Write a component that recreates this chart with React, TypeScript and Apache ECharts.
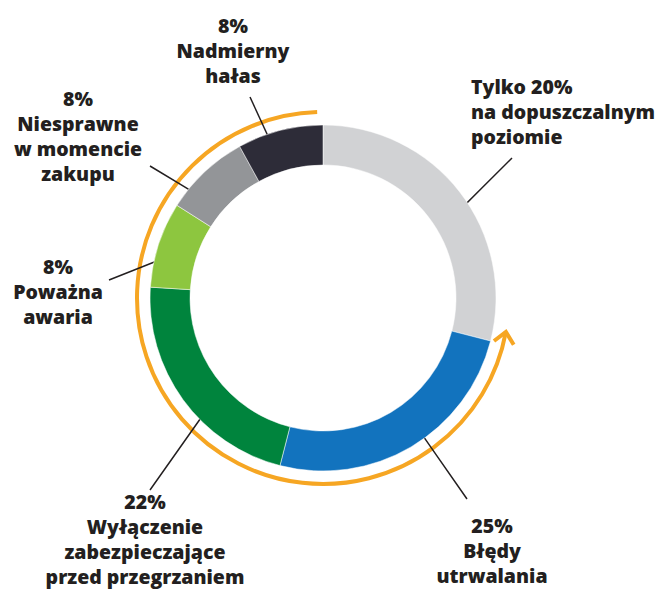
import React, { useEffect, useRef } from 'react';
import * as echarts from 'echarts';

// ---- data ----
const LABELS = [
  'Tylko 20%\nna dopuszczalnym\npoziomie',
  '25%\nBłędy\nutrwalania',
  '22%\nWyłączenie\nzabezpieczające\nprzed przegrzaniem',
  '8%\nPoważna\nawaria',
  '8%\nNiesprawne\nw momencie\nzakupu',
  '8%\nNadmierny\nhałas',
];
const VALUES = [29, 25, 22, 8, 8, 8];

// ---- styles / layout ----
const COLORS = ['#d1d2d4', '#1273be', '#00843d', '#8dc63f', '#939598', '#2d2c38'];
const CX = 323;
const CY = 298;
const R_IN = 133;
const R_OUT = 173;
const ARC_R = 186;
const ORANGE = '#f6a623';
const TEXT = '#231f20';
const FONT = 'Open Sans';

const LABEL_LAYOUT = [
  { x: 471, y: 74, align: 'left', end: [512, 158], dAngle: 6.5, r: 146 },
  { x: 492, y: 513, align: 'center', end: [467, 499], dAngle: -5.6, r: 139 },
  { x: 145, y: 489, align: 'center', end: [150, 490], dAngle: -7.4, r: 155 },
  { x: 58, y: 254, align: 'center', end: [109, 280], dAngle: -2.1, r: 157 },
  { x: 78, y: 86, align: 'center', end: [150, 166], dAngle: -6.5, r: 148 },
  { x: 233, y: 13, align: 'center', end: [250, 97], dAngle: -3.4, r: 147 },
];

function lineStart(i: number): number[] {
  const total = VALUES.reduce((a, b) => a + b, 0);
  let cum = 0;
  for (let k = 0; k < i; k++) cum += VALUES[k];
  const mid = ((cum + VALUES[i] / 2) / total) * 360 + LABEL_LAYOUT[i].dAngle;
  const a = (mid * Math.PI) / 180;
  const r = LABEL_LAYOUT[i].r;
  return [CX + r * Math.sin(a), CY - r * Math.cos(a)];
}

export default function App() {
  const ref = useRef<HTMLDivElement>(null);
  useEffect(() => {
    document.body.style.margin = '0';
    if (!ref.current) return;
    const chart = echarts.init(ref.current, undefined, { renderer: 'svg' });

    const deg = (d: number) => (d * Math.PI) / 180;
    const tipA = deg(10.5);
    const tip = [CX + ARC_R * Math.cos(tipA), CY + ARC_R * Math.sin(tipA)];
    const dir = [Math.sin(tipA), -Math.cos(tipA)];
    const back = [-dir[0], -dir[1]];
    const rot = (v: number[], t: number) => [
      v[0] * Math.cos(t) - v[1] * Math.sin(t),
      v[0] * Math.sin(t) + v[1] * Math.cos(t),
    ];
    const armLen = 15;
    const a1 = rot(back, deg(42));
    const a2 = rot(back, deg(-42));

    chart.setOption({
      animation: false,
      series: [
        {
          type: 'pie',
          center: [CX, CY],
          radius: [R_IN, R_OUT],
          startAngle: 90,
          clockwise: true,
          silent: true,
          avoidLabelOverlap: false,
          itemStyle: { borderColor: '#ffffff', borderWidth: 0.5 },
          data: VALUES.map((v, i) => ({
            value: v,
            name: LABELS[i],
            itemStyle: { color: COLORS[i] },
          })),
          label: {
            show: true,
            position: 'outside',
            formatter: (p: any) => LABELS[p.dataIndex],
            color: TEXT,
            fontFamily: FONT,
            fontWeight: 800,
            fontSize: 19.5,
            lineHeight: 25,
          },
          labelLine: {
            show: true,
            lineStyle: { color: TEXT, width: 1.5 },
          },
          labelLayout: (params: any) => {
            const L = LABEL_LAYOUT[params.dataIndex];
            const s = lineStart(params.dataIndex);
            const m = [(s[0] + L.end[0]) / 2, (s[1] + L.end[1]) / 2];
            return {
              x: L.x,
              y: L.y,
              align: L.align,
              verticalAlign: 'top',
              labelLinePoints: [s, m, L.end],
            };
          },
        },
      ],
      graphic: [
        {
          type: 'arc',
          silent: true,
          shape: {
            cx: CX,
            cy: CY,
            r: ARC_R,
            startAngle: tipA,
            endAngle: deg(268.2),
            clockwise: true,
          },
          style: { stroke: ORANGE, lineWidth: 4, fill: null },
        },
        {
          type: 'polyline',
          silent: true,
          shape: {
            points: [
              [tip[0] + a1[0] * armLen, tip[1] + a1[1] * armLen],
              tip,
              [tip[0] + a2[0] * armLen, tip[1] + a2[1] * armLen],
            ],
          },
          style: { stroke: ORANGE, lineWidth: 4, fill: null, lineJoin: 'miter' },
        },
      ],
    });
    return () => chart.dispose();
  }, []);
  return <div ref={ref} style={{ width: 658, height: 590 }} />;
}
